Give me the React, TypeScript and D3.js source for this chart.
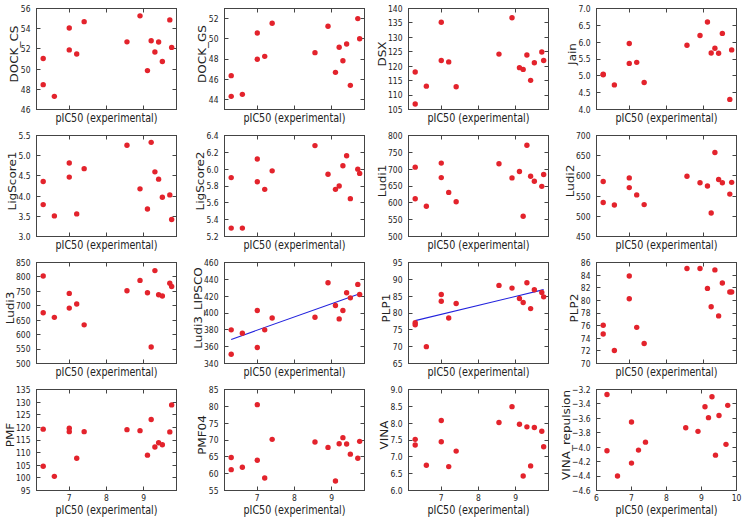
import React, { useEffect, useRef } from "react";
import * as d3 from "d3";

// experimental activity, shared x for every panel
const pIC50 = [6.3, 6.3, 6.6, 7.0, 7.0, 7.2, 7.4, 8.55, 8.9, 9.1, 9.2, 9.3, 9.4, 9.5, 9.7, 9.75];

// scoring function values, same compound order as pIC50
const dockCS = [51.05, 48.46, 47.3, 51.9, 54.07, 51.5, 54.7, 52.7, 55.27, 49.85, 52.8, 51.7, 52.68, 50.75, 54.87, 52.15];
const dockGS = [46.35, 44.3, 44.5, 50.58, 47.97, 48.26, 51.54, 48.63, 51.24, 46.68, 49.16, 47.83, 49.49, 45.39, 52.0, 50.0];
const dsx = [118.0, 106.9, 113.1, 135.25, 122.0, 121.5, 112.9, 124.2, 136.8, 119.5, 118.9, 123.9, 115.1, 121.2, 124.9, 122.0];
const jain = [5.05, 5.03, 4.73, 5.96, 5.37, 5.4, 4.8, 5.91, 6.2, 6.6, 5.68, 5.82, 5.67, 6.26, 4.3, 5.77];
const ligScore1 = [4.36, 3.79, 3.51, 4.82, 4.47, 3.56, 4.68, 5.26, 4.18, 3.68, 5.33, 4.6, 4.42, 3.97, 4.03, 3.42];
const ligScore2 = [5.9, 5.3, 5.3, 6.12, 5.85, 5.76, 5.98, 6.28, 5.94, 5.76, 5.8, 6.04, 6.16, 5.65, 6.0, 5.95];
const ludi1 = [706, 612, 590, 718, 675, 631, 603, 716, 674, 693, 560, 771, 679, 664, 649, 684];
const ludi2 = [586, 534, 528, 595, 571, 553, 529, 599, 583, 575, 508, 658, 591, 583, 555, 584];
const ludi3 = [803, 676, 660, 743, 692, 706, 634, 752, 788, 745, 557, 822, 738, 734, 778, 767];
const ludi3Lipsco = [380, 351, 376, 403, 359, 380, 394, 395, 436, 409, 393, 403, 424, 418, 434, 422];
const plp1 = [77.1, 76.5, 70.0, 85.5, 83.5, 78.5, 82.8, 88.2, 87.4, 84.3, 83.1, 89.0, 81.3, 86.9, 86.1, 84.8];
const plp2 = [76.05, 74.67, 72.06, 83.87, 80.26, 75.73, 73.18, 85.04, 85.04, 81.9, 78.98, 84.83, 77.54, 82.76, 81.32, 81.32];
const pmf = [119.3, 104.6, 100.6, 119.7, 118.3, 107.8, 118.3, 119.1, 118.7, 109.0, 123.1, 112.2, 113.9, 113.1, 118.2, 128.9];
const pmf04 = [64.8, 61.2, 61.9, 80.5, 64.0, 58.7, 70.2, 69.4, 67.8, 57.8, 68.9, 70.7, 68.8, 65.8, 64.6, 69.6];
const vina = [7.52, 7.35, 6.75, 8.08, 7.45, 6.71, 7.17, 8.02, 8.49, 7.97, 6.43, 7.89, 6.73, 7.87, 7.76, 7.3];
const vinaRepulsion = [-3.27, -4.05, -4.4, -3.65, -4.22, -4.04, -3.93, -3.73, -3.78, -3.44, -3.59, -3.3, -4.11, -3.56, -3.96, -3.42];

const scoreNames = [
    "DOCK_CS", "DOCK_GS", "DSX", "Jain",
    "LigScore1", "LigScore2", "Ludi1", "Ludi2",
    "Ludi3", "Ludi3_LIPSCO", "PLP1", "PLP2",
    "PMF", "PMF04", "VINA", "VINA_repulsion"
];
const scoreValues = [
    dockCS, dockGS, dsx, jain,
    ligScore1, ligScore2, ludi1, ludi2,
    ludi3, ludi3Lipsco, plp1, plp2,
    pmf, pmf04, vina, vinaRepulsion
];
// y axis domain and tick step per panel
const yDomains = [
    [46, 56], [43, 53], [105, 140], [4, 7],
    [3, 5.5], [5.2, 6.4], [500, 800], [450, 700],
    [500, 850], [340, 460], [65, 95], [70, 86],
    [95, 135], [55, 85], [6, 9], [-4.6, -3.2]
];
const yTickStart = [46, 44, 105, 4, 3, 5.2, 500, 450, 500, 340, 65, 70, 95, 55, 6, -4.6];
const yTickEnd = [56, 52, 140, 7, 5.5, 6.4, 800, 700, 850, 460, 95, 86, 135, 85, 9, -3.2];
const yTickStep = [2, 2, 5, 0.5, 0.5, 0.2, 50, 50, 50, 20, 5, 2, 5, 5, 0.5, 0.2];
// panels that carry a least squares line
const fitted = ["Ludi3_LIPSCO", "PLP1"];

const xDomain = [6.12, 9.88];
const xTicks = [7, 8, 9];
const lastXDomain = [6, 10];
const lastXTicks = [6, 7, 8, 9, 10];

function App() {
    const chart = useRef(null);

    useEffect(() => {
        const colLeft = [36, 224, 408, 596];
        const rowTop = [8, 135, 262, 389];
        const plotW = 140;
        const plotH = 101;
        const squeeze = 0.8;
        const frameColour = "#444";
        const textColour = "#222";

        const svg = d3.select(chart.current)
            .attr("width", 745)
            .attr("height", 517)
            .attr("font-family", "'DejaVu Sans', sans-serif")
            .attr("fill", textColour);

        // text in the picture is narrower than it is tall
        const addText = (parent, x, y, str, size, anchor, rotate = false) =>
            parent.append("text")
                .attr("transform", `translate(${x},${y}) scale(${squeeze},1)${rotate ? " rotate(-90)" : ""}`)
                .attr("text-anchor", anchor)
                .attr("font-size", size)
                .text(str);

        scoreNames.forEach((name, i) => {
            const col = i % 4;
            const row = Math.floor(i / 4);
            const isLast = i === scoreNames.length - 1;
            const values = scoreValues[i];

            const g = svg.append("g")
                .attr("transform", `translate(${colLeft[col] + 0.5},${rowTop[row] + 0.5})`);

            const x = d3.scaleLinear().domain(isLast ? lastXDomain : xDomain).range([0, plotW]);
            const y = d3.scaleLinear().domain(yDomains[i]).range([plotH, 0]);

            const nTicks = Math.round((yTickEnd[i] - yTickStart[i]) / yTickStep[i]);
            const yTicks = d3.range(nTicks + 1).map(k => +(yTickStart[i] + k * yTickStep[i]).toFixed(3));
            const fmt = yTickStep[i] < 1 ? d3.format(".1f") : d3.format("d");
            const xt = isLast ? lastXTicks : xTicks;

            // ticks point inward on all four sides
            const ticks = g.append("g").attr("stroke", frameColour).attr("stroke-width", 1);
            yTicks.forEach(t => {
                const yy = Math.round(y(t));
                ticks.append("line").attr("x1", 0).attr("x2", 4).attr("y1", yy).attr("y2", yy);
                ticks.append("line").attr("x1", plotW - 4).attr("x2", plotW).attr("y1", yy).attr("y2", yy);
            });
            xt.forEach(t => {
                const xx = Math.round(x(t));
                ticks.append("line").attr("x1", xx).attr("x2", xx).attr("y1", plotH).attr("y2", plotH - 4);
                ticks.append("line").attr("x1", xx).attr("x2", xx).attr("y1", 0).attr("y2", 4);
            });

            // least squares line
            if (fitted.includes(name)) {
                const mx = d3.mean(pIC50);
                const my = d3.mean(values);
                const sxy = d3.sum(pIC50, (v, k) => (v - mx) * (values[k] - my));
                const sxx = d3.sum(pIC50, v => (v - mx) * (v - mx));
                const slope = sxy / sxx;
                const ends = d3.extent(pIC50);
                g.append("path")
                    .attr("d", d3.line()(ends.map(v => [x(v), y(my + slope * (v - mx))])))
                    .attr("fill", "none")
                    .attr("stroke", "#2222dd")
                    .attr("stroke-width", 1.1);
            }

            // points
            g.selectAll(".pt")
                .data(values)
                .enter()
                .append("circle")
                .attr("class", "pt")
                .attr("cx", (d, k) => x(pIC50[k]))
                .attr("cy", d => y(d))
                .attr("r", 2.7)
                .attr("fill", "#e3232c");

            g.append("rect")
                .attr("width", plotW)
                .attr("height", plotH)
                .attr("fill", "none")
                .attr("stroke", frameColour)
                .attr("stroke-width", 1);

            // y tick labels
            const yLabels = g.append("g");
            yTicks.forEach(t => addText(yLabels, -6, y(t) + 3.4, fmt(t), 9.5, "end"));
            const box = yLabels.node().getBBox();

            addText(g, box.x - 2.5, plotH / 2 - 5, name, 12, "middle", true);

            if (row === 3) {
                xt.forEach(t => addText(g, x(t), plotH + 10, d3.format("d")(t), 9.5, "middle"));
            }
            addText(g, plotW / 2, plotH + (row === 3 ? 23.5 : 12), "pIC50 (experimental)", 12, "middle");
        });

        return () => {
            svg.selectAll("*").remove();
        };
    }, []);

    return (
        <svg ref={chart} style={{ position: "absolute", left: 0, top: 0, background: "#fff" }}></svg>
    );
}

export default App;
